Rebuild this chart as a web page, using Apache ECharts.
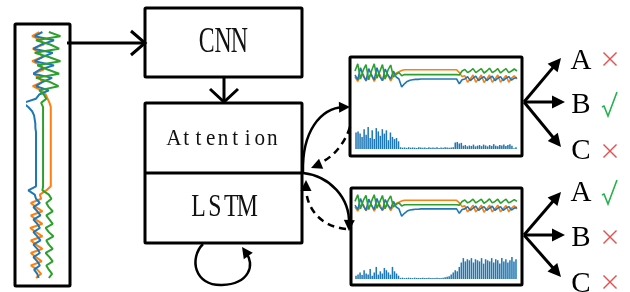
<!DOCTYPE html>
<html>
<head>
<meta charset="utf-8">
<script src="https://cdn.jsdelivr.net/npm/echarts@6/dist/echarts.min.js"></script>
<style>
html, body {margin: 0; padding: 0; background: #fff;}
#main {width: 630px; height: 292px;}
</style>
</head>
<body>
<div id="main"></div>
<script>
// three signal channels (same signal shown in all three small plots)
var green = [70, 88, 50, 72, 86, 48, 70, 88, 52, 68, 86, 50, 72, 85, 55, 62, 66,
    58, 61, 61, 61,
    61, 61, 61, 61, 61, 61, 61, 61, 61, 61, 61, 61, 61, 61, 61, 61, 61,
    60, 70,
    74, 66, 70, 76, 66, 71, 76, 65, 70, 77, 66, 70, 76, 65, 71, 76, 66, 70, 75, 70];
var blue = [60, 48, 78, 58, 46, 76, 60, 48, 78, 56, 46, 75, 60, 50, 70, 55, 50,
    30, 38, 44, 47,
    48, 49, 49, 50, 50, 50, 50, 50, 50, 50, 50, 50, 50, 50, 50, 50, 50,
    38, 48,
    50, 56, 46, 52, 57, 46, 52, 56, 46, 52, 57, 46, 52, 56, 46, 52, 56, 47, 52, 54];
var orange = [55, 44, 58, 62, 45, 56, 60, 44, 58, 62, 46, 55, 60, 45, 58, 65, 68,
    71, 73, 73, 73,
    73, 73, 73, 73, 73, 73, 73, 73, 73, 73, 73, 73, 73, 73, 73, 73, 73,
    66, 56,
    58, 42, 50, 60, 42, 50, 60, 41, 50, 60, 42, 50, 60, 42, 50, 59, 42, 52, 58, 50];

// attention weights, upper and lower result
var topBars = [75, 80, 70, 55, 90, 65, 100, 50, 85, 45, 95, 80, 60, 90, 70, 85, 40, 75, 55, 45, 50, 35,
    8, 6, 7, 5, 8, 6, 7, 6, 5, 8, 7, 6, 7, 5, 8, 6, 7, 6, 8, 5, 7, 6, 8, 7, 6, 7, 8,
    30, 32, 25, 28, 15, 18, 12, 16, 14, 20, 12, 15, 18, 13, 20, 16, 12, 18, 14, 22, 15, 13, 18, 16, 20, 14, 18, 22, 15, 3, 8];
var bottomBars = [15, 20, 30, 18, 40, 25, 20, 45, 15, 30, 55, 20, 35, 25, 50, 40, 30, 20, 55, 35, 25, 15,
    5, 6, 4, 5, 6, 5, 4, 6, 5, 4, 5, 6, 5, 4, 6, 5, 5, 4, 6, 5, 4, 6, 8, 10, 12, 20, 30,
    40, 35, 55, 75, 95, 80, 90, 85, 95, 75, 90, 85, 80, 95, 70, 90, 85, 80, 95, 75, 90, 85, 70, 95, 80, 90, 75, 85, 100, 80, 90];

var steps = blue.map(function (v, i) { return i; });
var barSteps = topBars.map(function (v, i) { return i; });

var C_BLUE = '#1f77b4', C_ORANGE = '#ff7f0e', C_GREEN = '#2ca02c';
var RED = '#e5514f', OK = '#25b14d';
var K = '#000';

function hidden(extra) {
    var o = {show: false};
    for (var k in extra) o[k] = extra[k];
    return o;
}
function vert(arr) {
    return arr.map(function (v, i) { return [v, i]; });
}
function lineS(data, color, xi, w) {
    return {type: 'line', xAxisIndex: xi, yAxisIndex: xi, data: data, showSymbol: false,
        lineStyle: {color: color, width: w}, itemStyle: {color: color}, silent: true};
}

// arrow head polygon
function head(tx, ty, fx, fy, s) {
    var dx = tx - fx, dy = ty - fy, l = Math.sqrt(dx * dx + dy * dy);
    dx /= l; dy /= l;
    var bx = tx - dx * s, by = ty - dy * s, w = s * 0.5;
    return {type: 'polygon', shape: {points: [[tx, ty], [bx - dy * w, by + dx * w], [bx + dy * w, by - dx * w]]},
        style: {fill: K}};
}
function box(x, y, w, h) {
    return {type: 'rect', shape: {x: x, y: y, width: w, height: h, r: 1}, style: {fill: 'none', stroke: K, lineWidth: 3}};
}
function seg(x1, y1, x2, y2, w, c) {
    return {type: 'line', shape: {x1: x1, y1: y1, x2: x2, y2: y2}, style: {stroke: c || K, lineWidth: w || 3}};
}
function poly(pts, w, c) {
    return {type: 'polyline', shape: {points: pts}, style: {fill: 'none', stroke: c || K, lineWidth: w || 3}};
}
function curve(p, dash) {
    return {type: 'bezierCurve', shape: {x1: p[0], y1: p[1], cpx1: p[2], cpy1: p[3], cpx2: p[4], cpy2: p[5], x2: p[6], y2: p[7]},
        style: {fill: 'none', stroke: K, lineWidth: 2.5, lineDash: dash ? [7, 5] : null}};
}
function label(t, x, y, font) {
    return {type: 'text', x: x, y: y,
        style: {text: t, x: 0, y: 0, font: font, fill: K, textAlign: 'center', textVerticalAlign: 'middle'}};
}
// serif text laid out at a fixed pitch, like the song-style mono latin in the figure
function monoText(t, cx, cy, pitch, size, sx, sy) {
    var out = [], x0 = cx - pitch * (t.length - 1) / 2;
    for (var i = 0; i < t.length; i++) {
        out.push({type: 'text', x: x0 + pitch * i, y: cy, scaleX: sx, scaleY: sy,
            style: {text: t[i], x: 0, y: 0, font: size + 'px "Liberation Serif", serif', fill: '#111',
                textAlign: 'center', textVerticalAlign: 'middle'}});
    }
    return out;
}
function cross(cx, cy) {
    return [seg(cx - 6.5, cy - 6.5, cx + 6.5, cy + 6.5, 1.4, RED), seg(cx - 6.5, cy + 6.5, cx + 6.5, cy - 6.5, 1.4, RED)];
}
function check(cx, cy) {
    return [poly([[cx - 9, cy + 3], [cx - 7, cy + 2], [cx - 3, cy + 12], [cx + 6, cy - 12]], 1.6, OK)];
}
function fan(ox, oy, tips) {
    var out = [];
    tips.forEach(function (t) {
        var dx = t[0] - ox, dy = t[1] - oy, l = Math.sqrt(dx * dx + dy * dy);
        out.push(seg(ox, oy, t[0] - dx / l * 9, t[1] - dy / l * 9, 3));
        out.push(head(t[0], t[1], ox, oy, 13));
    });
    return out;
}

var g = [];
g.push(box(15, 24, 55, 262));
g.push(box(145, 8, 157, 69));
g.push(box(145, 103, 157, 140));
g.push(seg(145, 173, 302, 173));
g.push(box(350, 57, 172, 99));
g.push(box(351, 188, 171, 97));

// input -> CNN
g.push(seg(67, 43, 145, 43));
g.push(poly([[131, 31], [145, 43], [131, 55]]));
// CNN -> attention
g.push(seg(224, 77, 224, 102));
g.push(poly([[210, 89], [224, 102], [238, 89]]));

// curved arrows between model and results: [curve, dashed, tip]
var arcs = [
    [[303, 172, 302, 132, 320, 108, 344, 107], false, [350, 107]],
    [[350, 127, 344, 146, 330, 160, 317, 164], true, [311, 168]],
    [[303, 173, 330, 176, 350, 198, 349, 224], false, [349, 231]],
    [[346, 229, 318, 226, 306, 206, 306, 187], true, [306, 180]]
];
arcs.forEach(function (a) {
    var p = a[0];
    g.push(curve(p, a[1]));
    g.push(head(a[2][0], a[2][1], p[4], p[5], 11));
});

// self loop under LSTM
g.push(curve([203, 244, 189, 258, 194, 286, 222, 285]));
g.push(curve([222, 285, 250, 284, 255, 264, 246, 253]));
g.push(head(242, 247, 249, 257, 11));

// outputs
g = g.concat(fan(524, 102, [[561, 58], [565, 102], [561, 147]]));
g = g.concat(fan(524, 235, [[561, 192], [565, 235], [561, 277]]));

var serif = '29px "Liberation Serif", serif';
g.push(label('A', 581, 61, serif));
g.push(label('B', 581, 105, serif));
g.push(label('C', 581, 151, serif));
g.push(label('A', 581, 193, serif));
g.push(label('B', 581, 238, serif));
g.push(label('C', 581, 284, serif));
g = g.concat(cross(610, 59), check(611, 104), cross(610, 151));
g = g.concat(check(611, 192), cross(610, 237), cross(610, 282));

g = g.concat(monoText('CNN', 223, 43, 16.3, 28, 0.85, 1.25));
g = g.concat(monoText('Attention', 223, 139, 12.3, 23, 0.92, 1.02));
g = g.concat(monoText('LSTM', 223, 208, 16.3, 28, 0.85, 1.12));

var chart = echarts.init(document.getElementById('main'));
chart.setOption({
    backgroundColor: '#fff',
    animation: false,
    grid: [
        {left: 27, top: 32, width: 36, height: 246},
        {left: 355, top: 63, width: 162, height: 28},
        {left: 355, top: 127, width: 162, height: 22},
        {left: 355, top: 194, width: 162, height: 26},
        {left: 355, top: 257, width: 162, height: 22}
    ],
    xAxis: [
        hidden({type: 'value', gridIndex: 0, min: 36, max: 92}),
        hidden({type: 'category', gridIndex: 1, data: steps, boundaryGap: false}),
        hidden({type: 'category', gridIndex: 2, data: barSteps}),
        hidden({type: 'category', gridIndex: 3, data: steps, boundaryGap: false}),
        hidden({type: 'category', gridIndex: 4, data: barSteps})
    ],
    yAxis: [
        hidden({type: 'value', gridIndex: 0, min: 0, max: 59, inverse: true}),
        hidden({type: 'value', gridIndex: 1, min: 20, max: 90}),
        hidden({type: 'value', gridIndex: 2, min: 0, max: 100}),
        hidden({type: 'value', gridIndex: 3, min: 20, max: 90}),
        hidden({type: 'value', gridIndex: 4, min: 0, max: 100})
    ],
    series: [
        lineS(vert(orange), C_ORANGE, 0, 2),
        lineS(vert(blue), C_BLUE, 0, 2),
        lineS(vert(green), C_GREEN, 0, 2),
        lineS(orange, C_ORANGE, 1, 1.6),
        lineS(blue, C_BLUE, 1, 1.6),
        lineS(green, C_GREEN, 1, 1.6),
        {type: 'bar', xAxisIndex: 2, yAxisIndex: 2, data: topBars, barCategoryGap: '25%',
            itemStyle: {color: C_BLUE}, silent: true},
        lineS(orange, C_ORANGE, 3, 1.6),
        lineS(blue, C_BLUE, 3, 1.6),
        lineS(green, C_GREEN, 3, 1.6),
        {type: 'bar', xAxisIndex: 4, yAxisIndex: 4, data: bottomBars, barCategoryGap: '25%',
            itemStyle: {color: C_BLUE}, silent: true}
    ],
    graphic: {elements: g}
});
</script>
</body>
</html>
